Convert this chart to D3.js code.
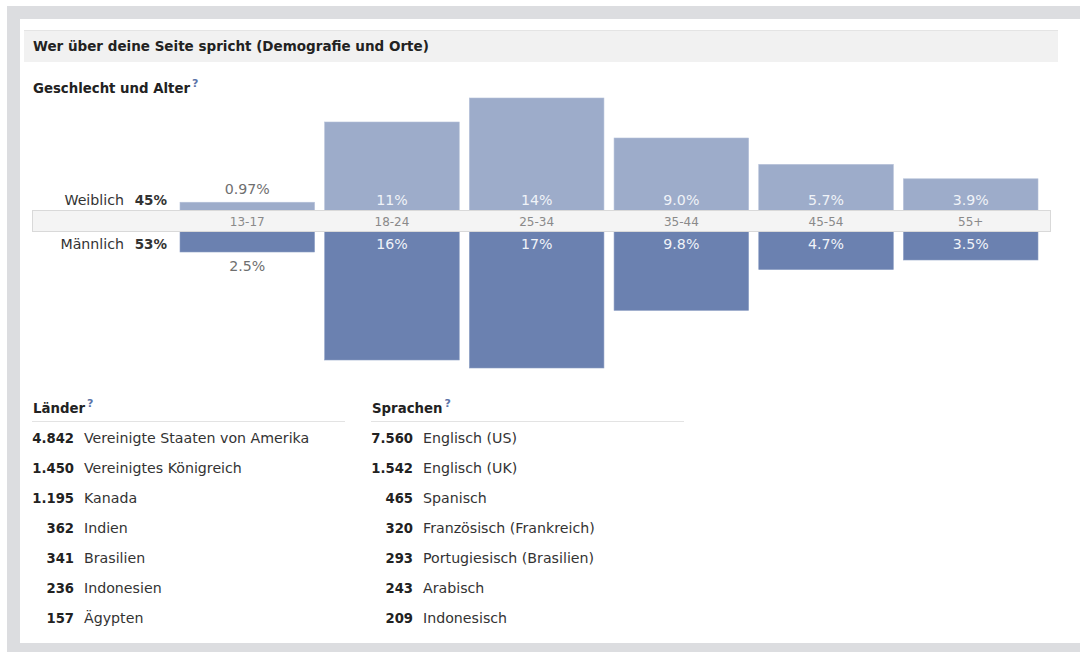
<!DOCTYPE html>
<html>
<head>
<meta charset="utf-8">
<script src="https://cdn.jsdelivr.net/npm/d3@7"></script>
<style>
  body { margin: 0; background: #fff; }
  svg { display: block; font-family: "DejaVu Sans", sans-serif; }
</style>
</head>
<body>
<svg id="chart" width="1080" height="652"></svg>
<script>
// Geschlecht und Alter
const ageGroups = ['13-17', '18-24', '25-34', '35-44', '45-54', '55+'];
const femaleShare = [0.97, 11, 14, 9.0, 5.7, 3.9];
const maleShare = [2.5, 16, 17, 9.8, 4.7, 3.5];
const genderNames = ['Weiblich', 'Männlich'];
const genderTotals = [45, 53];

// Länder
const countryNames = ['Vereinigte Staaten von Amerika', 'Vereinigtes Königreich', 'Kanada', 'Indien', 'Brasilien', 'Indonesien', 'Ägypten'];
const countryCounts = [4842, 1450, 1195, 362, 341, 236, 157];

// Sprachen
const languageNames = ['Englisch (US)', 'Englisch (UK)', 'Spanisch', 'Französisch (Frankreich)', 'Portugiesisch (Brasilien)', 'Arabisch', 'Indonesisch'];
const languageCounts = [7560, 1542, 465, 320, 293, 243, 209];

const svg = d3.select('#chart');
const de = d3.formatLocale({ decimal: ',', thousands: '.', grouping: [3], currency: ['', ' €'] });
const fmtCount = de.format(',d');
const fmtPct = v => (v < 1 ? v.toFixed(2) : v < 10 ? v.toFixed(1) : v.toFixed(0)) + '%';
const fs = 14.2; // regular text size

// frame
svg.append('rect').attr('x', 7).attr('y', 6).attr('width', 1073).attr('height', 646).attr('fill', '#dcdde0');
svg.append('rect').attr('x', 20).attr('y', 19).attr('width', 1060).attr('height', 624).attr('fill', '#fff');

// header
svg.append('rect').attr('x', 24).attr('y', 30).attr('width', 1034).attr('height', 32).attr('fill', '#f1f1f1');
svg.append('rect').attr('x', 24).attr('y', 30).attr('width', 1034).attr('height', 1).attr('fill', '#e4e4e4');
svg.append('text').attr('x', 33).attr('y', 51).attr('font-size', 13.5).attr('font-weight', 'bold').attr('fill', '#222')
    .text('Wer über deine Seite spricht (Demografie und Orte)');

function sectionTitle(x, y, label) {
    const t = svg.append('text').attr('x', x).attr('y', y).attr('font-size', 13.3).attr('font-weight', 'bold').attr('fill', '#222');
    t.append('tspan').text(label);
    t.append('tspan').attr('dy', -6).attr('dx', 2).attr('font-size', 11).attr('fill', '#5b74a8').text('?');
}
sectionTitle(33, 93, 'Geschlecht und Alter');

// scales
const x = d3.scaleBand().domain(ageGroups).range([180, 1038]).paddingInner(0.07);
const y = d3.scaleLinear().domain([0, 17]).range([0, 136]);
const femaleBase = 210, maleBase = 232;

const rows = ageGroups.map((g, i) => ({ group: g, f: femaleShare[i], m: maleShare[i] }));

const bars = svg.append('g');
bars.selectAll('.female').data(rows).enter().append('rect')
    .attr('x', d => x(d.group)).attr('width', x.bandwidth())
    .attr('y', d => femaleBase - y(d.f)).attr('height', d => y(d.f) + 11)
    .attr('fill', '#9dacca').attr('stroke', '#b3bfd8').attr('stroke-width', 0.6);
bars.selectAll('.male').data(rows).enter().append('rect')
    .attr('x', d => x(d.group)).attr('width', x.bandwidth())
    .attr('y', maleBase - 11).attr('height', d => y(d.m) + 11)
    .attr('fill', '#6b81b0').attr('stroke', '#8b9dc3').attr('stroke-width', 0.6);

// middle band with age labels
svg.append('rect').attr('x', 32.5).attr('y', 210.5).attr('width', 1018).attr('height', 21)
    .attr('fill', '#f4f4f4').attr('stroke', '#d9d9d9');
svg.append('g').selectAll('text').data(ageGroups).enter().append('text')
    .attr('x', d => x(d) + x.bandwidth() / 2).attr('y', 225.5)
    .attr('text-anchor', 'middle').attr('font-size', 12).attr('fill', '#8a8a8a')
    .text(d => d);

// value labels
const inside = 24;
svg.append('g').selectAll('text').data(rows).enter().append('text')
    .attr('x', d => x(d.group) + x.bandwidth() / 2)
    .attr('y', d => y(d.f) < inside ? femaleBase - y(d.f) - 8 : 204.5)
    .attr('text-anchor', 'middle').attr('font-size', fs)
    .attr('fill', d => y(d.f) < inside ? '#6f6f6f' : '#f0f3f8')
    .text(d => fmtPct(d.f));
svg.append('g').selectAll('text').data(rows).enter().append('text')
    .attr('x', d => x(d.group) + x.bandwidth() / 2)
    .attr('y', d => y(d.m) < inside ? maleBase + y(d.m) + 19 : 248.5)
    .attr('text-anchor', 'middle').attr('font-size', fs)
    .attr('fill', d => y(d.m) < inside ? '#6f6f6f' : '#f0f3f8')
    .text(d => fmtPct(d.m));

// gender totals
[204.5, 248.5].forEach((ty, i) => {
    svg.append('text').attr('x', 124).attr('y', ty).attr('text-anchor', 'end').attr('font-size', fs).attr('fill', '#333')
        .text(genderNames[i]);
    svg.append('text').attr('x', 167).attr('y', ty).attr('text-anchor', 'end').attr('font-size', 13.5)
        .attr('font-weight', 'bold').attr('fill', '#333').text(genderTotals[i] + '%');
});

// lists
function list(x0, numRight, title, names, counts) {
    sectionTitle(x0, 413, title);
    svg.append('line').attr('x1', x0 - 1).attr('x2', x0 + 312).attr('y1', 421.5).attr('y2', 421.5).attr('stroke', '#e3e3e3');
    const ry = d3.scalePoint().domain(d3.range(names.length)).range([443, 623]);
    const g = svg.append('g');
    g.selectAll('.num').data(counts).enter().append('text')
        .attr('x', numRight).attr('y', (d, i) => ry(i)).attr('text-anchor', 'end')
        .attr('font-size', 13.2).attr('font-weight', 'bold').attr('fill', '#222').text(d => fmtCount(d));
    g.selectAll('.name').data(names).enter().append('text')
        .attr('x', numRight + 10).attr('y', (d, i) => ry(i))
        .attr('font-size', fs).attr('fill', '#333').text(d => d);
}
list(33, 74, 'Länder', countryNames, countryCounts);
list(372, 413, 'Sprachen', languageNames, languageCounts);
</script>
</body>
</html>
